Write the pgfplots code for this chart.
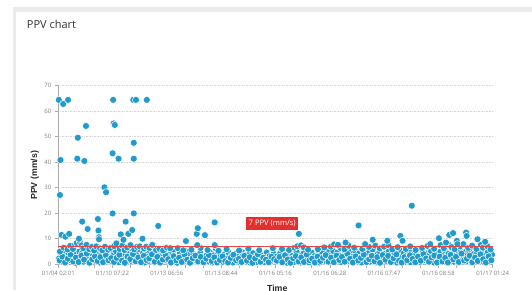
\documentclass[border=0pt]{standalone}
\usepackage{fontspec}
\setmainfont{Open Sans}
\newfontfamily\labelfont{Liberation Sans}
\usepackage{pgfplots}
\pgfplotsset{compat=1.18}
\definecolor{ppvblue}{RGB}{33,155,205}
\definecolor{axisgray}{RGB}{170,170,170}
\definecolor{labelgray}{RGB}{128,128,128}
\definecolor{gridgray}{RGB}{215,215,215}
\definecolor{borderg}{RGB}{234,234,234}
\definecolor{linered}{RGB}{232,70,66}
\definecolor{boxred}{RGB}{226,48,46}
\pgfplotsset{ppv/.style={only marks, mark=*, mark size=3.5pt, mark options={fill=ppvblue, draw=white, line width=0.5pt}}}
\begin{document}
\begin{tikzpicture}
\path[use as bounding box] (0pt,0pt) rectangle (532pt,290pt);
\fill[white] (0pt,0pt) rectangle (532pt,290pt);
\fill[borderg] (12.7pt,0pt) rectangle (16pt,282.7pt);
\fill[borderg] (12.7pt,277.7pt) rectangle (532pt,282.7pt);
\node[anchor=base west, inner sep=0pt, font=\fontsize{11}{12}\selectfont, text={rgb,255:red,51;green,51;blue,51}] at (26.7pt,261.7pt) {PPV chart};
\begin{axis}[
  at={(58.3pt,25.7pt)}, anchor=south west, scale only axis,
  width=434.4pt, height=179pt,
  xmin=0, xmax=8, ymin=0, ymax=70,
  axis lines*=left,
  axis line style={draw=axisgray, line width=0.6pt, -},
  xtick={0,1,...,8},
  xticklabels={01/04 02:01,01/10 07:22,01/13 06:56,01/13 08:44,01/16 05:16,01/16 06:28,01/16 07:47,01/16 08:58,01/17 01:24},
  minor x tick num=2,
  ytick={0,10,...,70},
  tick align=outside,
  major tick length=3.5pt, minor tick length=3.5pt,
  tick style={draw=axisgray, line width=0.6pt},
  ymajorgrids,
  grid style={draw=gridgray, line width=0.6pt, dash pattern=on 0.8pt off 0.8pt},
  tick label style={font=\fontsize{6}{7}\selectfont, text=labelgray},
  /pgf/number format/assume math mode=true,
  xlabel={Time}, ylabel={PPV (mm/s)},
  xlabel style={font=\labelfont\bfseries\fontsize{8.8}{10}\selectfont, text={rgb,255:red,40;green,40;blue,40}, at={(axis description cs:0.504,-0.117)}, anchor=north, inner sep=0pt},
  ylabel style={font=\labelfont\bfseries\fontsize{8.8}{10}\selectfont, text={rgb,255:red,40;green,40;blue,40}, at={(axis description cs:-0.054,0.497)}, anchor=center, rotate=0, inner sep=0pt},
  clip=false,
  clip marker paths=true,
]
% dense band
\addplot[ppv] coordinates {
(0.013,2.3)(0.038,4.8)(0.063,1.1)(0.088,3.6)(0.113,5.4)(0.138,0.8)(0.163,2.9)(0.188,4.1)(0.213,1.7)(0.238,3.3)
(0.263,6.2)(0.288,2.0)(0.313,0.6)(0.338,3.9)(0.363,1.4)(0.388,5.0)(0.413,2.6)(0.438,4.4)(0.463,1.0)(0.488,3.1)
(0.513,5.8)(0.538,2.2)(0.563,0.9)(0.588,4.6)(0.613,1.8)(0.638,3.5)(0.663,5.2)(0.688,1.3)(0.713,2.7)(0.738,4.0)
(0.763,0.7)(0.788,3.8)(0.813,6.0)(0.838,2.4)(0.863,1.5)(0.888,4.9)(0.913,3.0)(0.938,1.2)(0.963,5.5)(0.988,2.8)
(1.013,3.4)(1.038,1.2)(1.063,5.1)(1.088,2.5)(1.113,0.8)(1.138,4.3)(1.163,1.9)(1.188,3.7)(1.213,6.1)(1.238,2.1)
(1.263,0.9)(1.288,4.7)(1.313,2.8)(1.338,1.4)(1.363,5.6)(1.388,3.2)(1.413,1.0)(1.438,4.0)(1.463,2.3)(1.488,5.9)
(1.513,1.6)(1.538,3.0)(1.563,4.5)(1.588,0.7)(1.613,2.6)(1.638,3.9)(1.663,1.3)(1.688,5.3)(1.713,2.0)(1.738,4.2)
(1.763,0.9)(1.788,3.5)(1.813,1.8)(1.838,4.8)(1.863,2.7)(1.888,1.1)(1.913,3.8)(1.938,5.0)(1.963,2.2)(1.988,1.5)
(2.013,1.9)(2.038,3.6)(2.063,0.8)(2.088,2.7)(2.113,4.2)(2.138,1.3)(2.163,3.1)(2.188,0.6)(2.213,2.4)(2.238,4.6)
(2.263,1.7)(2.288,3.4)(2.313,1.0)(2.338,2.9)(2.363,5.0)(2.388,1.5)(2.413,3.8)(2.438,0.7)(2.463,2.2)(2.488,4.0)
(2.513,1.2)(2.538,3.3)(2.563,0.9)(2.588,2.6)(2.613,4.4)(2.638,1.6)(2.663,3.0)(2.688,0.8)(2.713,2.1)(2.738,3.7)
(2.763,1.1)(2.788,4.8)(2.813,2.5)(2.838,0.7)(2.863,3.5)(2.888,1.4)(2.913,2.8)(2.938,4.1)(2.963,1.0)(2.988,3.2)
(3.013,2.4)(3.038,0.9)(3.063,3.9)(3.088,1.5)(3.113,2.8)(3.138,4.5)(3.163,1.1)(3.188,3.3)(3.213,0.7)(3.238,2.2)
(3.263,4.1)(3.288,1.6)(3.313,3.0)(3.338,0.8)(3.363,2.6)(3.388,4.7)(3.413,1.3)(3.438,3.6)(3.463,1.0)(3.488,2.3)
(3.513,3.8)(3.538,0.6)(3.563,2.9)(3.588,4.3)(3.613,1.4)(3.638,3.1)(3.663,0.9)(3.688,2.5)(3.713,4.0)(3.738,1.2)
(3.763,3.4)(3.788,0.8)(3.813,2.0)(3.838,4.6)(3.863,1.7)(3.888,3.2)(3.913,1.0)(3.938,2.7)(3.963,4.2)(3.988,1.5)
(4.013,3.0)(4.038,1.2)(4.063,2.5)(4.088,4.4)(4.113,0.8)(4.138,2.9)(4.163,1.6)(4.188,3.7)(4.213,0.6)(4.238,2.2)
(4.263,4.0)(4.288,1.3)(4.313,3.3)(4.338,0.9)(4.363,2.6)(4.388,4.8)(4.413,1.8)(4.438,3.1)(4.463,0.7)(4.488,2.4)
(4.513,4.2)(4.538,1.1)(4.563,3.5)(4.588,1.9)(4.613,0.8)(4.638,2.8)(4.663,4.6)(4.688,1.4)(4.713,3.2)(4.738,1.0)
(4.763,2.3)(4.788,3.9)(4.813,0.7)(4.838,2.7)(4.863,4.3)(4.888,1.5)(4.913,3.4)(4.938,1.1)(4.963,2.5)(4.988,5.0)
(5.013,1.8)(5.038,3.8)(5.063,5.2)(5.088,1.0)(5.113,2.9)(5.138,4.6)(5.163,1.5)(5.188,3.4)(5.213,0.8)(5.238,2.5)
(5.263,5.6)(5.288,1.9)(5.313,3.9)(5.338,1.2)(5.363,2.8)(5.388,4.9)(5.413,0.9)(5.438,3.1)(5.463,5.4)(5.488,2.0)
(5.513,1.1)(5.538,4.2)(5.563,2.6)(5.588,0.7)(5.613,3.6)(5.638,5.1)(5.663,1.6)(5.688,2.7)(5.713,4.4)(5.738,1.0)
(5.763,3.3)(5.788,5.8)(5.813,2.2)(5.838,0.8)(5.863,3.7)(5.888,1.4)(5.913,4.7)(5.938,2.4)(5.963,1.2)(5.988,3.0)
(6.013,4.1)(6.038,1.3)(6.063,2.6)(6.088,5.3)(6.113,0.9)(6.138,3.2)(6.163,1.7)(6.188,4.5)(6.213,2.3)(6.238,0.7)
(6.263,3.6)(6.288,5.5)(6.313,1.5)(6.338,2.9)(6.363,4.3)(6.388,1.0)(6.413,3.4)(6.438,2.0)(6.463,5.0)(6.488,0.8)
(6.513,2.7)(6.538,4.0)(6.563,1.3)(6.588,3.8)(6.613,5.7)(6.638,2.1)(6.663,0.9)(6.688,3.1)(6.713,4.8)(6.738,1.6)
(6.763,2.5)(6.788,4.2)(6.813,1.1)(6.838,3.5)(6.863,5.2)(6.888,1.8)(6.913,0.7)(6.938,2.9)(6.963,4.6)(6.988,1.4)
(7.013,2.7)(7.038,4.9)(7.063,1.2)(7.088,3.3)(7.113,5.6)(7.138,0.9)(7.163,2.4)(7.188,4.1)(7.213,1.7)(7.238,3.6)
(7.263,5.9)(7.288,1.0)(7.313,2.8)(7.338,4.4)(7.363,0.8)(7.388,3.0)(7.413,5.1)(7.438,1.5)(7.463,2.2)(7.488,4.7)
(7.513,1.1)(7.538,3.5)(7.563,5.4)(7.588,2.0)(7.613,0.7)(7.638,3.9)(7.663,1.6)(7.688,2.6)(7.713,4.5)(7.738,1.2)
(7.763,3.2)(7.788,5.0)(7.813,1.9)(7.838,0.9)(7.863,3.7)(7.888,2.3)(7.913,4.8)(7.938,1.3)(7.963,2.9)(7.988,3.8)
};
% second, lower pass of the dense band
\addplot[ppv] coordinates {
(0.025,1.5)(0.075,3.0)(0.125,0.7)(0.175,2.2)(0.225,3.8)(0.275,1.1)(0.325,2.6)(0.375,0.9)(0.425,3.4)(0.475,1.8)
(0.525,4.2)(0.575,0.6)(0.625,2.0)(0.675,3.1)(0.725,1.3)(0.775,2.8)(0.825,0.8)(0.875,3.6)(0.925,1.6)(0.975,2.4)
(1.025,0.9)(1.075,2.5)(1.125,3.7)(1.175,1.4)(1.225,0.6)(1.275,3.0)(1.325,2.1)(1.375,4.0)(1.425,1.2)(1.475,2.7)
(1.525,0.8)(1.575,3.3)(1.625,1.7)(1.675,2.3)(1.725,3.9)(1.775,1.0)(1.825,2.9)(1.875,0.7)(1.925,1.9)(1.975,3.5)
(2.025,2.0)(2.075,0.7)(2.125,3.2)(2.175,1.5)(2.225,2.6)(2.275,0.9)(2.325,3.8)(2.375,1.8)(2.425,0.6)(2.475,2.4)
(2.525,3.4)(2.575,1.1)(2.625,2.9)(2.675,0.8)(2.725,2.2)(2.775,3.6)(2.825,1.3)(2.875,2.7)(2.925,0.7)(2.975,1.7)
(3.025,3.1)(3.075,1.2)(3.125,0.7)(3.175,2.5)(3.225,3.7)(3.275,1.6)(3.325,2.1)(3.375,0.9)(3.425,3.3)(3.475,1.4)
(3.525,2.8)(3.575,0.6)(3.625,2.3)(3.675,3.9)(3.725,1.0)(3.775,2.6)(3.825,1.8)(3.875,0.8)(3.925,3.0)(3.975,2.0)
(4.025,1.4)(4.075,2.9)(4.125,0.8)(4.175,3.5)(4.225,1.9)(4.275,0.6)(4.325,2.4)(4.375,3.2)(4.425,1.1)(4.475,2.7)
(4.525,0.9)(4.575,3.8)(4.625,1.6)(4.675,2.2)(4.725,0.7)(4.775,3.0)(4.825,1.3)(4.875,2.6)(4.925,3.6)(4.975,1.0)
(5.025,2.6)(5.075,0.8)(5.125,3.4)(5.175,1.7)(5.225,2.9)(5.275,1.0)(5.325,4.1)(5.375,2.2)(5.425,0.7)(5.475,3.1)
(5.525,1.5)(5.575,2.5)(5.625,3.8)(5.675,0.9)(5.725,2.0)(5.775,3.3)(5.825,1.2)(5.875,2.8)(5.925,0.6)(5.975,3.6)
(6.025,1.8)(6.075,3.3)(6.125,0.9)(6.175,2.4)(6.225,3.9)(6.275,1.3)(6.325,0.7)(6.375,2.8)(6.425,1.6)(6.475,3.5)
(6.525,2.1)(6.575,0.8)(6.625,3.0)(6.675,1.4)(6.725,4.0)(6.775,2.3)(6.825,1.0)(6.875,2.7)(6.925,3.4)(6.975,0.7)
(7.025,3.0)(7.075,1.1)(7.125,2.5)(7.175,0.7)(7.225,3.7)(7.275,1.9)(7.325,2.9)(7.375,0.9)(7.425,4.2)(7.475,1.5)
(7.525,2.2)(7.575,3.4)(7.625,0.8)(7.675,2.6)(7.725,1.3)(7.775,3.9)(7.825,2.0)(7.875,0.7)(7.925,3.1)(7.975,1.6)
};
% medium values
\addplot[ppv] coordinates {
(0.03,5.0)(0.10,6.5)(0.17,5.8)(0.22,7.2)(0.27,6.0)(0.31,7.8)(0.34,8.3)(0.40,8.6)(0.43,7.4)(0.46,6.3)
(0.52,7.6)(0.57,5.9)(0.62,6.8)(0.66,5.4)(0.70,7.0)(0.77,6.2)(0.81,5.5)(0.86,6.9)(0.92,5.7)(0.96,6.4)
(1.03,7.1)(1.07,8.2)(1.13,6.0)(1.18,7.3)(1.22,5.6)(1.27,6.6)(1.33,7.5)(1.40,5.8)(1.45,6.8)(1.50,7.0)
(1.58,6.2)(1.62,6.9)(1.68,6.4)(1.75,7.3)(1.80,5.6)(1.86,6.1)(1.93,5.4)(2.00,6.5)(2.12,5.8)(2.20,6.3)
(2.30,5.5)(2.45,5.7)(2.62,6.4)(2.75,5.6)(2.90,6.2)(2.95,5.3)(3.10,5.9)(3.33,5.4)(3.50,6.1)(3.70,5.5)
(3.95,6.3)(4.12,6.0)(4.25,5.6)(4.35,6.5)(4.40,7.0)(4.47,7.4)(4.52,6.6)(4.60,5.7)(4.78,5.9)
(4.90,6.6)(5.02,6.9)(5.08,7.8)(5.20,6.3)(5.27,5.9)(5.35,7.2)(5.45,6.5)(5.60,6.0)(5.65,7.7)(5.72,6.8)
(5.84,7.3)(5.92,6.2)(6.00,6.9)(6.08,7.4)(6.15,5.8)(6.25,6.7)(6.40,6.0)(6.48,7.0)(6.58,5.6)(6.70,6.4)
(6.80,7.2)(6.92,6.1)(7.04,7.5)(7.10,6.3)(7.18,7.8)(7.24,6.7)(7.30,5.9)(7.40,7.0)(7.46,7.9)(7.55,6.4)
(7.62,7.3)(7.70,6.0)(7.78,7.6)(7.82,6.5)(7.90,7.1)(7.96,5.8)
};
% high values
\addplot[ppv] coordinates {
(0.01,64.3)(0.09,62.7)(0.18,64.3)(0.04,40.8)(0.03,27.1)(0.36,49.5)(0.35,41.3)(0.48,40.4)(0.51,54.1)
(1.01,64.3)(1.02,55.1)(1.04,54.5)(1.00,43.4)(1.11,41.3)(1.38,64.3)(1.43,64.3)(1.63,64.3)(1.39,47.5)(1.39,41.3)
(0.85,30.1)(0.88,28.2)(1.00,19.9)(1.39,19.9)(0.44,16.7)(0.54,13.8)(0.73,17.7)(0.74,13.2)(0.75,10.6)(0.75,9.8)
(0.06,11.5)(0.13,10.8)(0.20,11.9)(0.38,10.0)(1.24,16.7)(1.15,11.7)(1.20,9.6)(1.29,11.9)(1.36,13.4)(1.55,10.0)
(1.73,7.6)(1.84,15.0)(2.06,6.3)(2.35,9.1)(2.55,11.9)(2.57,14.1)(2.70,11.4)(2.88,16.4)(2.88,7.5)(2.56,7.5)
(4.43,11.9)(5.53,15.2)(6.51,22.9)(6.30,11.1)(6.34,9.2)(5.79,9.6)(6.06,9.2)(5.29,8.5)(5.15,7.6)(5.65,7.9)
(7.01,10.2)(7.20,11.5)(7.27,12.2)(7.51,12.4)(7.52,11.1)(7.34,9.2)(7.35,7.9)(7.72,9.8)(7.86,8.8)(7.14,8.5)(6.85,7.9)
};
\addplot[draw=linered, line width=1.1pt, forget plot] coordinates {(0,7)(8,7)};
\node[fill=boxred, text=white, font=\fontsize{7.6}{9}\selectfont, inner xsep=2.5pt, inner ysep=0pt, minimum height=13.4pt] at (axis cs:3.94,15.9) {7 PPV (mm/s)};
\end{axis}
\end{tikzpicture}
\end{document}
